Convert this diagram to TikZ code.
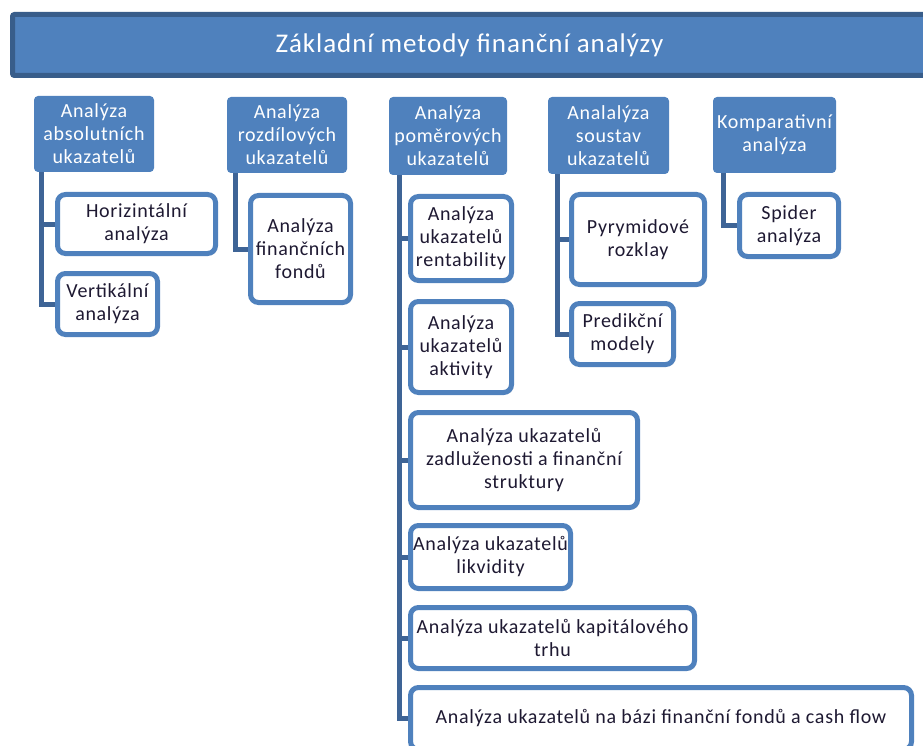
\documentclass[tikz,border=0pt]{standalone}
\usepackage{fontspec}
\setmainfont[LetterSpace=3.5]{Carlito}
\usetikzlibrary{backgrounds,shadows}
\definecolor{hdrblue}{RGB}{79,129,189}
\definecolor{titleborder}{RGB}{56,93,138}
\definecolor{connblue}{RGB}{62,100,150}
\definecolor{txtdark}{RGB}{30,25,50}
\begin{document}
\begin{tikzpicture}[x=1pt,y=-1pt,
  titlebox/.style={draw=titleborder, line width=5pt, fill=hdrblue, rounded corners=2pt,
    text=white, inner sep=0pt, font=\fontsize{27}{31}\selectfont},
  hdr/.style={fill=hdrblue, rounded corners=4pt, text=white, align=center, inner sep=0pt,
    font=\fontsize{20}{23}\selectfont},
  kid/.style={draw=hdrblue, line width=5pt, fill=white, rounded corners=8pt, align=center,
    inner sep=0pt, text=txtdark, font=\fontsize{20}{23}\selectfont,
    drop shadow={shadow xshift=2pt, shadow yshift=-2pt, opacity=0.18}},
  conn/.style={draw=connblue, line width=5pt}]
\useasboundingbox (0,0) rectangle (923,746);
\clip (0,0) rectangle (923,746);

% title
\node[titlebox, minimum width=922pt, minimum height=61pt] (T) at (473.5,45)
  {\hspace*{-8pt}Základní metody finanční analýzy};

% headers
\node[hdr, minimum width=120pt, minimum height=76pt] (H1) at (94,134) {Analýza\\absolutních\\ukazatelů};
\node[hdr, minimum width=120pt, minimum height=76pt] (H2) at (287,135) {Analýza\\rozdílových\\ukazatelů};
\node[hdr, minimum width=118pt, minimum height=78pt] (H3) at (448,136) {Analýza\\poměrových\\ukazatelů};
\node[hdr, minimum width=121pt, minimum height=77pt] (H4) at (608.5,135.5) {Analalýza\\soustav\\ukazatelů};
\node[hdr, minimum width=123pt, minimum height=76pt] (H5) at (774.5,135) {Komparativní\\analýza};

% column 1
\node[kid, minimum width=158pt, minimum height=59pt] (h1) at (136.5,224) {Horizintální\\analýza};
\node[kid, minimum width=100pt, minimum height=61pt] (h2) at (107.5,304) {Vertikální\\analýza};
% column 2
\node[kid, minimum width=100pt, minimum height=107pt] (r1) at (300.5,249) {Analýza\\finančních\\fondů};
% column 3
\node[kid, minimum width=101pt, minimum height=84pt] (p1) at (461,238.5) {Analýza\\ukazatelů\\rentability};
\node[kid, minimum width=101pt, minimum height=91pt] (p2) at (461,347) {Analýza\\ukazatelů\\aktivity};
\node[kid, minimum width=227pt, minimum height=95pt] (p3) at (524,460) {Analýza ukazatelů\\zadluženosti a finanční\\struktury};
\node[kid, minimum width=160pt, minimum height=63pt] (p4) at (490.5,557) {Analýza ukazatelů\\likvidity};
\node[kid, minimum width=284pt, minimum height=61pt] (p5) at (552.5,638) {Analýza ukazatelů kapitálového\\trhu};
\node[kid, minimum width=501pt, minimum height=62pt] (p6) at (661,718.5) {Analýza ukazatelů na bázi finanční fondů a cash flow};
% column 4
\node[kid, minimum width=133pt, minimum height=90pt] (s1) at (638,239.5) {Pyrymidové\\rozklay};
\node[kid, minimum width=102pt, minimum height=61pt] (s2) at (622.5,334) {Predikční\\modely};
% column 5
\node[kid, minimum width=99pt, minimum height=62pt] (k1) at (789,225.5) {Spider\\analýza};

% connectors
\begin{scope}[on background layer]
\draw[conn] ([xshift=8pt,yshift=2pt]H1.south west) |- (h1.west);
\draw[conn] ([xshift=8pt,yshift=2pt]H1.south west) |- (h2.west);
\draw[conn] ([xshift=9pt,yshift=2pt]H2.south west) |- (r1.west);
\draw[conn] ([xshift=11pt,yshift=2pt]H3.south west) |- (p1.west);
\draw[conn] ([xshift=11pt,yshift=2pt]H3.south west) |- (p2.west);
\draw[conn] ([xshift=11pt,yshift=2pt]H3.south west) |- (p3.west);
\draw[conn] ([xshift=11pt,yshift=2pt]H3.south west) |- (p4.west);
\draw[conn] ([xshift=11pt,yshift=2pt]H3.south west) |- (p5.west);
\draw[conn] ([xshift=11pt,yshift=2pt]H3.south west) |- (p6.west);
\draw[conn] ([xshift=10pt,yshift=2pt]H4.south west) |- (s1.west);
\draw[conn] ([xshift=10pt,yshift=2pt]H4.south west) |- (s2.west);
\draw[conn] ([xshift=11pt,yshift=2pt]H5.south west) |- (k1.west);
\end{scope}
\end{tikzpicture}
\end{document}
